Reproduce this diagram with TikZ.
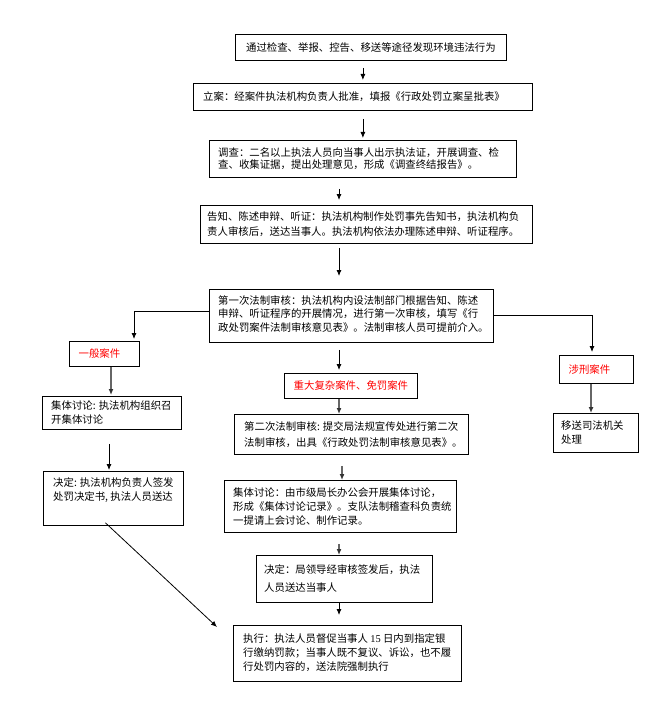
\documentclass[tikz,border=0pt]{standalone}
\usepackage{fontspec}
\setmainfont{Noto Sans CJK SC}
\newfontfamily\latserif{Liberation Serif}
\usetikzlibrary{arrows.meta,calc}
\begin{document}
\begin{tikzpicture}[x=1bp,y=-1bp,
  box/.style={draw=black, line width=0.8bp, inner sep=0pt, anchor=north west},
  txt/.style={inner sep=0pt, align=left, anchor=west, font=\fontsize{10.4bp}{14bp}\selectfont},
  redtxt/.style={txt, anchor=center, text=red},
  arr/.style={draw=black, line width=0.8bp, -{Latex[length=6bp,width=5bp]}},
  garr/.style={draw=black!60, line width=1.4bp, -{Latex[length=6bp,width=5bp,fill=black!80,color=black!80]}}
]
\useasboundingbox (0,0) rectangle (665,713);
% boxes
\node[box, minimum width=271bp, minimum height=26bp] (b1) at (235,34) {};
\node[box, minimum width=339bp, minimum height=27bp] (b2) at (193,83) {};
\node[box, minimum width=307bp, minimum height=37bp] (b3) at (209,140) {};
\node[box, minimum width=332bp, minimum height=38bp] (b4) at (200,205) {};
\node[box, minimum width=284bp, minimum height=53bp] (b5) at (209,289) {};
\node[box, minimum width=70bp, minimum height=25bp] (g1) at (69,341) {};
\node[box, minimum width=139bp, minimum height=33bp] (L1) at (42,396) {};
\node[box, minimum width=140bp, minimum height=54bp] (L2) at (43,471) {};
\node[box, minimum width=133bp, minimum height=25bp] (z1) at (284,373) {};
\node[box, minimum width=234bp, minimum height=40bp] (m1) at (234,414) {};
\node[box, minimum width=232bp, minimum height=52bp] (m2) at (224,480) {};
\node[box, minimum width=176bp, minimum height=47bp] (m3) at (256,555) {};
\node[box, minimum width=228bp, minimum height=56bp] (e1) at (233,625) {};
\node[box, minimum width=74bp, minimum height=28bp] (s1) at (559,355) {};
\node[box, minimum width=85bp, minimum height=39bp] (s2) at (553,413) {};
% texts
\node[txt, anchor=center] (t1) at (b1.center) {通过检查、举报、控告、移送等途径发现环境违法行为};
\node[txt] (t2) at ([xshift=10bp]b2.west) {立案：经案件执法机构负责人批准，填报《行政处罚立案呈批表》};
\node[txt, font=\fontsize{10.4bp}{12.5bp}\selectfont] (t3) at ([xshift=9bp]b3.west) {调查：二名以上执法人员向当事人出示执法证，开展调查、检\\查、收集证据，提出处理意见，形成《调查终结报告》。};
\node[txt, font=\fontsize{10.4bp}{15bp}\selectfont] (t4) at ([xshift=7bp]b4.west) {告知、陈述申辩、听证：执法机构制作处罚事先告知书，执法机构负\\责人审核后，送达当事人。执法机构依法办理陈述申辩、听证程序。};
\node[txt, font=\fontsize{10.4bp}{13.5bp}\selectfont] (t5) at ([xshift=9bp,yshift=2bp]b5.west) {第一次法制审核：执法机构内设法制部门根据告知、陈述\\申辩、听证程序的开展情况，进行第一次审核，填写《行\\政处罚案件法制审核意见表》。法制审核人员可提前介入。};
\node[redtxt] (tg1) at ([xshift=-5bp]g1.center) {一般案件};
\node[txt] (tL1) at ([xshift=9bp]L1.west) {集体讨论: 执法机构组织召\\开集体讨论};
\node[txt, anchor=north west] (tL2) at ([xshift=10bp,yshift=-6bp]L2.north west) {决定: 执法机构负责人签发\\处罚决定书, 执法人员送达};
\node[redtxt] (tz1) at (z1.center) {重大复杂案件、免罚案件};
\node[txt, font=\fontsize{10.4bp}{16bp}\selectfont] (tm1) at ([xshift=10bp]m1.west) {第二次法制审核: 提交局法规宣传处进行第二次\\法制审核，出具《行政处罚法制审核意见表》。};
\node[txt] (tm2) at ([xshift=9bp]m2.west) {集体讨论：由市级局长办公会开展集体讨论，\\形成《集体讨论记录》。支队法制稽查科负责统\\一提请上会讨论、制作记录。};
\node[txt, font=\fontsize{10.4bp}{18bp}\selectfont] (tm3) at ([xshift=8bp]m3.west) {决定：局领导经审核签发后，执法\\人员送达当事人};
\node[txt] (te1) at ([xshift=10bp,yshift=1bp]e1.west) {执行：执法人员督促当事人 {\latserif 15} 日内到指定银\\行缴纳罚款；当事人既不复议、诉讼，也不履\\行处罚内容的，送法院强制执行};
\node[redtxt] (ts1) at ([xshift=-7bp]s1.center) {涉刑案件};
\node[txt] (ts2) at ([xshift=8bp]s2.west) {移送司法机关\\处理};
% helper x positions
\coordinate (xm) at (339,0);
\coordinate (xm2) at (342,0);
\coordinate (xl) at (134,0);
\coordinate (xl2) at (111,0);
\coordinate (xl3) at (109,0);
\coordinate (xr) at (592,0);
\coordinate (xr2) at (591,0);
\coordinate (dend) at (217,627);
% connectors
\draw[arr, shorten <=7bp, shorten >=3bp] (b1.south -| b2.north) -- (b2.north);
\draw[arr, shorten <=8bp, shorten >=2bp] (b2.south -| b3.north) -- (b3.north);
\draw[arr, shorten <=11bp, shorten >=5bp] (b3.south -| xm) -- (b4.north -| xm);
\draw[arr, shorten <=4bp, shorten >=13bp] (b4.south -| xm) -- (b5.north -| xm);
\draw[arr, shorten >=2bp] ([yshift=4.5bp]b5.west) -| (g1.north -| xl);
\draw[arr, shorten >=3bp] ([yshift=0.5bp]b5.east) -| (s1.north -| xr);
\draw[arr, shorten <=7bp, shorten >=3bp] (b5.south -| xm) -- (z1.north -| xm);
\draw[garr, shorten >=1bp] (g1.south -| xl2) -- (L1.north -| xl2);
\draw[arr, shorten <=14bp, shorten >=1bp] (L1.south -| xl3) -- (L2.north -| xl3);
\draw[arr] ([xshift=-8bp,yshift=3bp]L2.south) -- (dend);
\draw[garr] (z1.south -| xm) -- (m1.north -| xm);
\draw[garr, shorten <=11bp] (m1.south -| xm2) -- (m2.north -| xm2);
\draw[garr, shorten <=11bp] (m2.south -| xm) -- (m3.north -| xm);
\draw[arr, shorten >=10bp] (m3.south -| xm) -- (e1.north -| xm);
\draw[garr] (s1.south -| xr2) -- (s2.north -| xr2);
\end{tikzpicture}
\end{document}
